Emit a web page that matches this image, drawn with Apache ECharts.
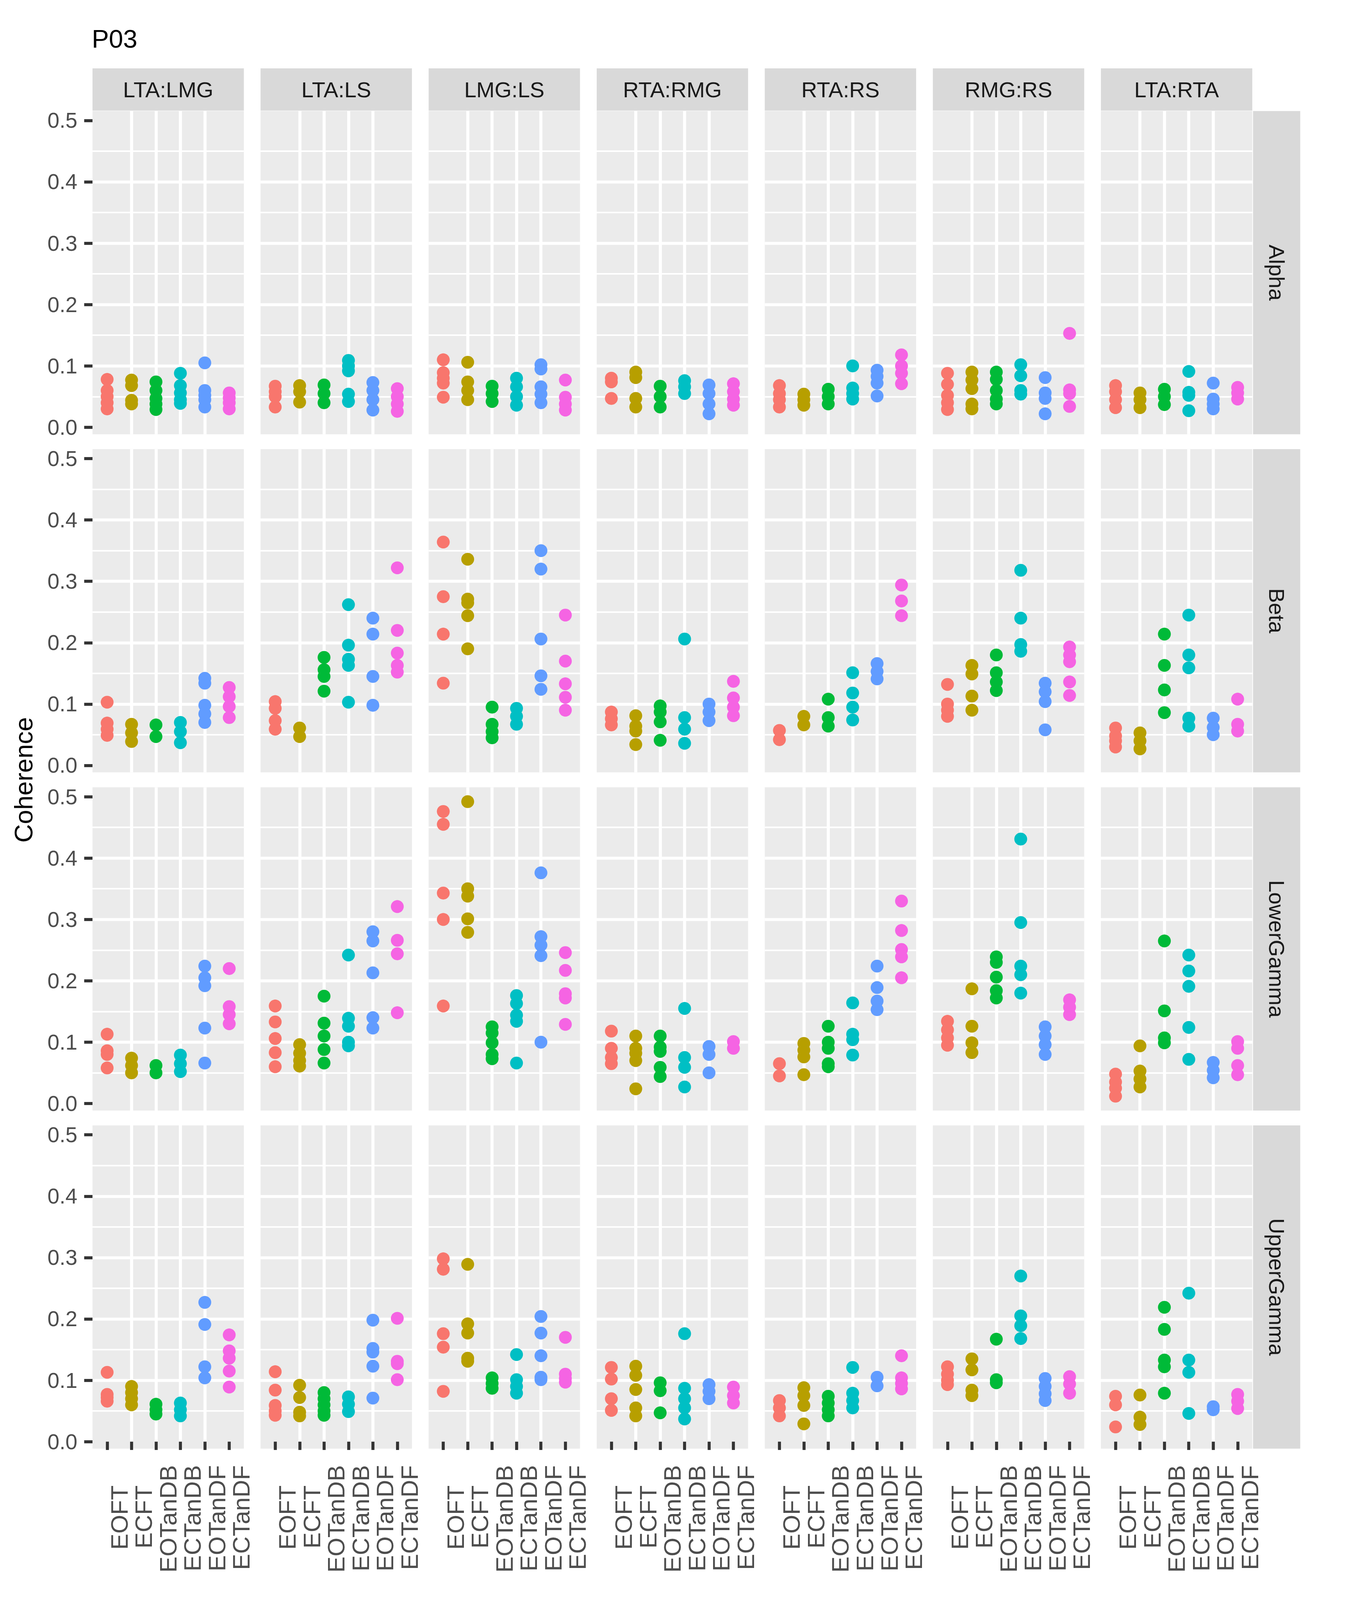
<!DOCTYPE html>
<html>
<head>
<meta charset="utf-8">
<title>P03 coherence</title>
<script src="https://cdn.jsdelivr.net/npm/echarts@6/dist/echarts.min.js"></script>
<style>
  html, body { margin: 0; padding: 0; background: #fff; overflow: hidden; }
  #main { width: 100vw; height: 100vh; }
</style>
</head>
<body>
<div id="main"></div>
<script>
// 条件 (x 轴), 电极对 (列), 频段 (行)
var conditions = ['EOFT', 'ECFT', 'EOTanDB', 'ECTanDB', 'EOTanDF', 'ECTanDF'];
var pairs = ['LTA:LMG', 'LTA:LS', 'LMG:LS', 'RTA:RMG', 'RTA:RS', 'RMG:RS', 'LTA:RTA'];
var bands = ['Alpha', 'Beta', 'LowerGamma', 'UpperGamma'];
var yTicks = [0, 0.1, 0.2, 0.3, 0.4, 0.5];

// 每个频段: 7 个电极对, 每对 6 个条件的 coherence 值
var alpha = [
    [[0.078, 0.06, 0.05, 0.04, 0.03], [0.077, 0.068, 0.044, 0.038], [0.074, 0.06, 0.047, 0.038, 0.029], [0.088, 0.068, 0.056, 0.045, 0.039], [0.105, 0.06, 0.052, 0.045, 0.033], [0.056, 0.048, 0.04, 0.03]],
    [[0.067, 0.058, 0.05, 0.033], [0.068, 0.058, 0.041], [0.069, 0.055, 0.04], [0.109, 0.1, 0.092, 0.054, 0.042], [0.073, 0.06, 0.045, 0.028], [0.063, 0.05, 0.038, 0.026]],
    [[0.11, 0.089, 0.08, 0.072, 0.049], [0.106, 0.074, 0.06, 0.045], [0.067, 0.055, 0.042], [0.08, 0.066, 0.05, 0.036], [0.102, 0.095, 0.066, 0.054, 0.04], [0.077, 0.049, 0.038, 0.028]],
    [[0.08, 0.074, 0.047], [0.09, 0.081, 0.047, 0.033], [0.067, 0.05, 0.033], [0.076, 0.066, 0.055], [0.069, 0.055, 0.038, 0.022], [0.071, 0.058, 0.046, 0.036]],
    [[0.068, 0.055, 0.045, 0.033], [0.054, 0.045, 0.036], [0.062, 0.05, 0.038], [0.1, 0.064, 0.055, 0.046], [0.093, 0.083, 0.072, 0.051], [0.118, 0.1, 0.088, 0.071]],
    [[0.088, 0.07, 0.052, 0.04, 0.029], [0.09, 0.077, 0.063, 0.038, 0.03], [0.09, 0.078, 0.06, 0.046, 0.038], [0.102, 0.084, 0.06, 0.054], [0.081, 0.056, 0.047, 0.022], [0.153, 0.061, 0.055, 0.034]],
    [[0.068, 0.058, 0.045, 0.032], [0.056, 0.045, 0.032], [0.062, 0.05, 0.037], [0.091, 0.057, 0.052, 0.027], [0.072, 0.046, 0.038, 0.03], [0.065, 0.056, 0.046]]
];
var beta = [
    [[0.103, 0.069, 0.059, 0.049], [0.067, 0.053, 0.039], [0.066, 0.047], [0.07, 0.055, 0.037], [0.142, 0.134, 0.098, 0.084, 0.07], [0.127, 0.112, 0.096, 0.078]],
    [[0.104, 0.093, 0.073, 0.059], [0.061, 0.047], [0.176, 0.156, 0.145, 0.121], [0.262, 0.196, 0.173, 0.163, 0.103], [0.24, 0.214, 0.145, 0.098], [0.322, 0.22, 0.183, 0.163, 0.152]],
    [[0.364, 0.275, 0.214, 0.134], [0.336, 0.271, 0.265, 0.244, 0.19], [0.095, 0.067, 0.055, 0.045], [0.093, 0.08, 0.067], [0.35, 0.32, 0.206, 0.146, 0.124], [0.245, 0.17, 0.133, 0.111, 0.09]],
    [[0.087, 0.076, 0.066], [0.081, 0.064, 0.056, 0.034], [0.097, 0.087, 0.071, 0.041], [0.206, 0.078, 0.059, 0.036], [0.1, 0.087, 0.073], [0.137, 0.11, 0.095, 0.081]],
    [[0.057, 0.042], [0.08, 0.066], [0.108, 0.078, 0.064], [0.151, 0.118, 0.095, 0.074], [0.166, 0.153, 0.141], [0.294, 0.268, 0.244]],
    [[0.132, 0.1, 0.09, 0.08], [0.163, 0.149, 0.113, 0.09], [0.18, 0.151, 0.136, 0.122], [0.318, 0.24, 0.197, 0.186], [0.134, 0.12, 0.104, 0.058], [0.193, 0.18, 0.169, 0.136, 0.114]],
    [[0.061, 0.048, 0.04, 0.03], [0.053, 0.04, 0.027], [0.214, 0.163, 0.123, 0.086], [0.245, 0.18, 0.159, 0.077, 0.064], [0.077, 0.062, 0.05], [0.108, 0.067, 0.056]]
];
var lowerGamma = [
    [[0.113, 0.086, 0.08, 0.058], [0.074, 0.062, 0.05], [0.062, 0.05], [0.079, 0.065, 0.052], [0.224, 0.205, 0.192, 0.123, 0.066], [0.22, 0.158, 0.145, 0.13]],
    [[0.159, 0.133, 0.106, 0.083, 0.06], [0.096, 0.082, 0.07, 0.061], [0.175, 0.131, 0.11, 0.088, 0.066], [0.242, 0.139, 0.126, 0.1, 0.094], [0.28, 0.265, 0.213, 0.14, 0.123], [0.321, 0.266, 0.244, 0.148]],
    [[0.476, 0.455, 0.343, 0.3, 0.159], [0.492, 0.35, 0.338, 0.301, 0.279], [0.125, 0.115, 0.099, 0.08, 0.073], [0.176, 0.163, 0.144, 0.134, 0.066], [0.376, 0.272, 0.258, 0.241, 0.1], [0.246, 0.217, 0.179, 0.172, 0.129]],
    [[0.118, 0.09, 0.075, 0.065], [0.11, 0.09, 0.082, 0.07, 0.024], [0.11, 0.092, 0.085, 0.059, 0.044], [0.155, 0.075, 0.059, 0.027], [0.093, 0.08, 0.05], [0.101, 0.09]],
    [[0.065, 0.045], [0.098, 0.087, 0.076, 0.047], [0.126, 0.1, 0.09, 0.065, 0.06], [0.164, 0.113, 0.104, 0.079], [0.224, 0.189, 0.167, 0.153], [0.33, 0.282, 0.251, 0.239, 0.205]],
    [[0.134, 0.12, 0.107, 0.095], [0.187, 0.126, 0.099, 0.083], [0.239, 0.23, 0.206, 0.184, 0.172], [0.431, 0.295, 0.224, 0.21, 0.18], [0.125, 0.11, 0.096, 0.08], [0.169, 0.157, 0.145]],
    [[0.048, 0.035, 0.025, 0.012], [0.094, 0.053, 0.04, 0.027], [0.265, 0.151, 0.107, 0.099], [0.242, 0.216, 0.191, 0.124, 0.072], [0.067, 0.054, 0.042], [0.101, 0.09, 0.062, 0.047]]
];
var upperGamma = [
    [[0.113, 0.077, 0.072, 0.066], [0.09, 0.08, 0.07, 0.06], [0.061, 0.052, 0.045], [0.063, 0.052, 0.042], [0.227, 0.191, 0.122, 0.104], [0.174, 0.148, 0.136, 0.115, 0.089]],
    [[0.114, 0.084, 0.059, 0.05, 0.043], [0.092, 0.072, 0.048, 0.042], [0.08, 0.07, 0.06, 0.05, 0.043], [0.073, 0.061, 0.049], [0.198, 0.152, 0.146, 0.123, 0.071], [0.201, 0.131, 0.127, 0.101]],
    [[0.298, 0.281, 0.176, 0.154, 0.082], [0.289, 0.192, 0.177, 0.136, 0.131], [0.104, 0.095, 0.087], [0.142, 0.101, 0.09, 0.079], [0.204, 0.177, 0.14, 0.105, 0.101], [0.17, 0.11, 0.103, 0.097]],
    [[0.121, 0.102, 0.07, 0.051], [0.123, 0.108, 0.085, 0.055, 0.042], [0.096, 0.083, 0.047], [0.176, 0.087, 0.07, 0.055, 0.037], [0.093, 0.082, 0.07], [0.089, 0.075, 0.063]],
    [[0.067, 0.055, 0.042], [0.088, 0.075, 0.059, 0.029], [0.074, 0.063, 0.052, 0.042], [0.121, 0.079, 0.067, 0.055], [0.105, 0.091], [0.14, 0.104, 0.095, 0.086]],
    [[0.122, 0.11, 0.1, 0.093], [0.135, 0.117, 0.084, 0.075], [0.167, 0.101, 0.096], [0.27, 0.205, 0.189, 0.168], [0.103, 0.09, 0.078, 0.067], [0.106, 0.094, 0.079]],
    [[0.074, 0.06, 0.024], [0.076, 0.04, 0.028], [0.219, 0.183, 0.133, 0.122, 0.079], [0.242, 0.133, 0.113, 0.046], [0.057, 0.052], [0.077, 0.066, 0.054]]
];

var bandData = [alpha, beta, lowerGamma, upperGamma];
var colors = ['#F8766D', '#B79F00', '#00BA38', '#00BFC4', '#619CFF', '#F564E3'];  // ggplot 默认色

// 版面按 3498 x 4237 设计, 按实际窗口等比缩放
var mainDiv = document.getElementById('main');
var S = Math.min(mainDiv.clientWidth / 3498, mainDiv.clientHeight / 4237) || 1;
function px(v) { return v * S; }

var PANEL_LEFT = px(245), PANEL_TOP = px(294);
var PANEL_W = px(401), PANEL_H = px(856);
var STEP_X = px(445.2), STEP_Y = px(895.4);
var STRIP_H = px(112), STRIP_W = px(125);
var FONT = '"Liberation Sans", Arial, Helvetica, sans-serif';
var X_LABEL_SIZE = px(64);
var X_LABEL_CENTER = px(186);   // 轴下方, x 标签中心的距离

// 标签右对齐在轴下; 短标签末尾补不换行空格, 让所有标签以同一中心对齐 (同 ggplot)
var measureCtx = document.createElement('canvas').getContext('2d');
measureCtx.font = X_LABEL_SIZE + 'px ' + FONT;
var labelW = conditions.map(function (t) { return measureCtx.measureText(t).width; });
var labelMaxW = Math.max.apply(null, labelW);
var nbspW = measureCtx.measureText('\u00A0\u00A0\u00A0\u00A0').width / 4 || X_LABEL_SIZE * 0.278;
var xLabelText = conditions.map(function (t, i) {
    var n = Math.round((labelMaxW - labelW[i]) / 2 / nbspW);
    var pad = '';
    for (var j = 0; j < n; j++) pad += '\u00A0';
    return t + pad;
});

var grids = [], xAxes = [], yAxes = [], series = [], graphics = [];
var catValues = conditions.map(function (c, i) { return i + 1; });

for (var r = 0; r < bands.length; r++) {
    for (var c = 0; c < pairs.length; c++) {
        var idx = r * pairs.length + c;
        var isBottom = (r === bands.length - 1);
        var isLeft = (c === 0);
        grids.push({
            left: PANEL_LEFT + c * STEP_X,
            top: PANEL_TOP + r * STEP_Y,
            width: PANEL_W,
            height: PANEL_H,
            show: true,
            backgroundColor: '#EBEBEB',
            borderWidth: 0
        });
        xAxes.push({
            gridIndex: idx,
            type: 'value',
            min: 0.4,
            max: 6.6,
            minInterval: 1,
            maxInterval: 1,
            axisLine: { show: false },
            axisTick: {
                show: isBottom,
                customValues: catValues,
                length: px(22),
                lineStyle: { color: '#333333', width: px(8) }
            },
            axisLabel: {
                show: isBottom,
                customValues: catValues,
                formatter: function (v) { return xLabelText[Math.round(v) - 1] || ''; },
                rotate: 90,
                verticalAlign: 'top',
                margin: X_LABEL_CENTER - labelMaxW / 2,
                fontSize: X_LABEL_SIZE,
                fontFamily: FONT,
                color: '#4D4D4D'
            },
            splitLine: {
                show: true,
                showMinLine: false,
                showMaxLine: false,
                lineStyle: { color: '#FFFFFF', width: px(8) }
            }
        });
        yAxes.push({
            gridIndex: idx,
            type: 'value',
            min: -0.0114,
            max: 0.5154,
            minInterval: 0.1,
            maxInterval: 0.1,
            axisLine: { show: false },
            axisTick: {
                show: isLeft,
                customValues: yTicks,
                length: px(22),
                lineStyle: { color: '#333333', width: px(8) }
            },
            axisLabel: {
                show: isLeft,
                customValues: yTicks,
                formatter: function (v) { return v.toFixed(1); },
                margin: px(40),
                fontSize: px(57),
                fontFamily: FONT,
                color: '#4D4D4D'
            },
            splitLine: {
                show: true,
                showMinLine: false,
                showMaxLine: false,
                lineStyle: { color: '#FFFFFF', width: px(8) }
            },
            minorTick: { show: false, splitNumber: 2 },
            minorSplitLine: { show: true, lineStyle: { color: '#FFFFFF', width: px(4) } }
        });
        var panel = bandData[r][c];
        for (var k = 0; k < conditions.length; k++) {
            series.push({
                type: 'scatter',
                xAxisIndex: idx,
                yAxisIndex: idx,
                symbol: 'circle',
                symbolSize: px(34),
                silent: true,
                itemStyle: { color: colors[k], opacity: 1 },
                data: panel[k].map(function (v) { return [k + 1, v]; })
            });
        }
    }
}

// 顶部列标签
for (var c2 = 0; c2 < pairs.length; c2++) {
    var sx = PANEL_LEFT + c2 * STEP_X;
    graphics.push({
        type: 'rect', silent: true,
        shape: { x: sx, y: PANEL_TOP - STRIP_H - px(1), width: PANEL_W, height: STRIP_H },
        style: { fill: '#D9D9D9' }
    });
    graphics.push({
        type: 'text', silent: true,
        x: sx + PANEL_W / 2, y: PANEL_TOP - STRIP_H / 2 - px(1),
        style: { text: pairs[c2], fill: '#1A1A1A', font: px(58) + 'px ' + FONT, textAlign: 'center', textVerticalAlign: 'middle' }
    });
}
// 右侧行标签
var stripX = PANEL_LEFT + 6 * STEP_X + PANEL_W + px(2);
for (var r2 = 0; r2 < bands.length; r2++) {
    var sy = PANEL_TOP + r2 * STEP_Y;
    graphics.push({
        type: 'rect', silent: true,
        shape: { x: stripX, y: sy, width: STRIP_W, height: PANEL_H },
        style: { fill: '#D9D9D9' }
    });
    graphics.push({
        type: 'text', silent: true,
        x: stripX + STRIP_W / 2, y: sy + PANEL_H / 2,
        rotation: -Math.PI / 2,
        style: { text: bands[r2], fill: '#1A1A1A', font: px(58) + 'px ' + FONT, textAlign: 'center', textVerticalAlign: 'middle' }
    });
}
// 标题 与 y 轴名
graphics.push({
    type: 'text', silent: true,
    x: px(243), y: px(102),
    style: { text: 'P03', fill: '#000000', font: px(68) + 'px ' + FONT, textAlign: 'left', textVerticalAlign: 'middle' }
});
graphics.push({
    type: 'text', silent: true,
    x: px(62), y: PANEL_TOP + (3 * STEP_Y + PANEL_H) / 2,
    rotation: Math.PI / 2,
    style: { text: 'Coherence', fill: '#000000', font: px(68) + 'px ' + FONT, textAlign: 'center', textVerticalAlign: 'middle' }
});

var myChart = echarts.init(mainDiv, null, { renderer: 'svg' });
myChart.setOption({
    animation: false,
    backgroundColor: '#FFFFFF',
    grid: grids,
    xAxis: xAxes,
    yAxis: yAxes,
    series: series,
    graphic: graphics
});
</script>
</body>
</html>
